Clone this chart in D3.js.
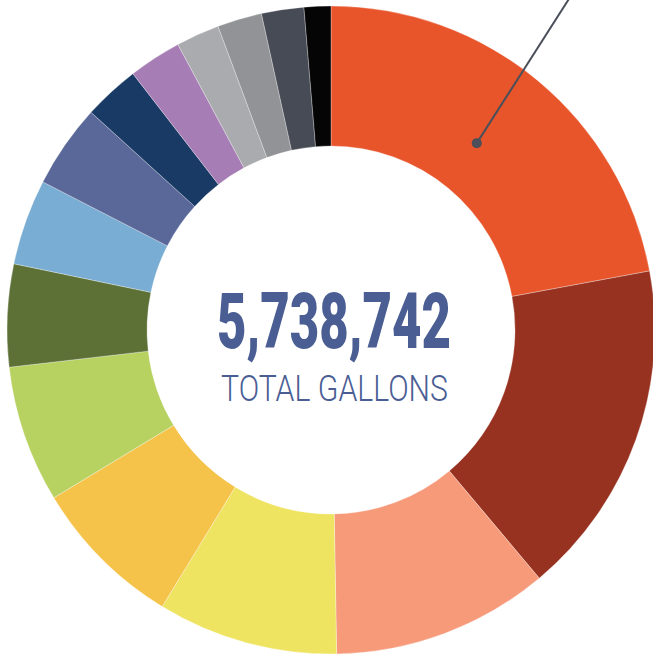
<!DOCTYPE html>
<html>
<head>
<meta charset="utf-8">
<script src="https://cdn.jsdelivr.net/npm/d3@7"></script>
<style>
  html, body { margin: 0; padding: 0; background: #fff; overflow: hidden; }
  svg { display: block; }
</style>
</head>
<body>
<svg id="chart"></svg>
<script>
// --- DATOS ---
const categorias = ["A", "B", "C", "D", "E", "F", "G", "H", "I", "J", "K", "L", "M", "N", "O"];
const galones = [1267300, 964400, 621700, 516500, 436800, 392100, 293300, 245500,
                 239100, 161000, 151400, 124300, 127500, 121200, 76500];
const colores = ["#E9552B", "#983220", "#F69A7A", "#EFE462", "#F5C34A", "#B8D262", "#5D7137", "#79ADD3",
                 "#5A6899", "#193A64", "#A67DB4", "#AAABAE", "#929396", "#474B55", "#050505"];
const totalTexto = "5,738,742";
const subtitulo = "TOTAL GALLONS";

const width = 653, height = 656;
const cx = 331, cy = 330;
const rExt = 324, rInt = 184;

const svg = d3.select("#chart").attr("width", width).attr("height", height);
const g = svg.append("g").attr("transform", `translate(${cx},${cy})`);

const pie = d3.pie().value(d => d.valor).sort(null);
const arc = d3.arc().innerRadius(rInt).outerRadius(rExt);

const datos = categorias.map((c, i) => ({ cat: c, valor: galones[i], color: colores[i] }));
const arcos = pie(datos);

// --- DONA ---
g.selectAll("path")
  .data(arcos)
  .enter().append("path")
  .attr("d", arc)
  .attr("fill", d => d.data.color)
  .attr("stroke", "#fff")
  .attr("stroke-width", 0.3);

// --- LINEA INDICADORA ---
const a0 = arcos[0];
const angulo = (a0.startAngle + a0.endAngle) / 2 * 0.955;
const rPunto = 237;
const px = rPunto * Math.sin(angulo), py = -rPunto * Math.cos(angulo);
const dir = [92, -144]; // direccion hacia arriba-derecha
const t = (py + cy + 10) / -dir[1];
g.append("line")
  .attr("x1", px).attr("y1", py)
  .attr("x2", px + dir[0] * t).attr("y2", py + dir[1] * t)
  .attr("stroke", "#4A4F5A")
  .attr("stroke-width", 2);
g.append("circle")
  .attr("cx", px).attr("cy", py)
  .attr("r", 5)
  .attr("fill", "#4A4F5A");

// --- TEXTO CENTRAL ---
g.append("text")
  .attr("x", 3).attr("y", 18)
  .attr("text-anchor", "middle")
  .attr("font-family", "Roboto, sans-serif")
  .attr("font-weight", 900)
  .attr("font-size", 77)
  .attr("textLength", 234)
  .attr("lengthAdjust", "spacingAndGlyphs")
  .attr("fill", "#4A5E94")
  .text(totalTexto);

g.append("text")
  .attr("x", 3.5).attr("y", 71)
  .attr("text-anchor", "middle")
  .attr("font-family", "Roboto, sans-serif")
  .attr("font-weight", 300)
  .attr("font-size", 36.5)
  .attr("textLength", 227)
  .attr("lengthAdjust", "spacingAndGlyphs")
  .attr("fill", "#4A5E94")
  .text(subtitulo);
</script>
</body>
</html>
